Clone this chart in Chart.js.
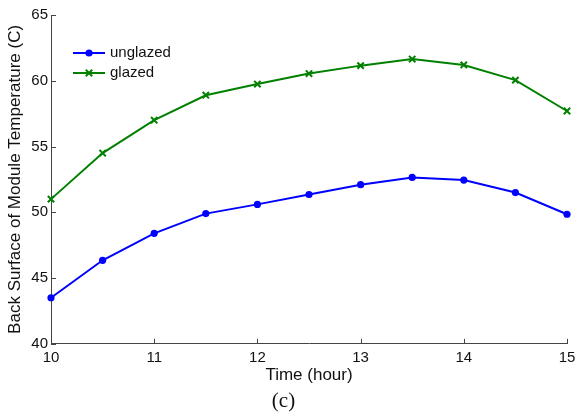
<!DOCTYPE html>
<html>
<head>
<meta charset="utf-8">
<script src="https://cdn.jsdelivr.net/npm/chart.js@4/dist/chart.umd.min.js"></script>
<style>
  html, body { margin: 0; padding: 0; background: #fff; }
  #wrap { width: 577px; height: 420px; }
</style>
</head>
<body>
<div id="wrap"><canvas id="chart-canvas" width="577" height="420"></canvas></div>
<script>
// values
const hours = [10, 10.5, 11, 11.5, 12, 12.5, 13, 13.5, 14, 14.5, 15];
const unglazed = [43.5, 46.35, 48.4, 49.9, 50.6, 51.35, 52.1, 52.65, 52.45, 51.5, 49.85];
const glazed = [51.0, 54.5, 57.0, 58.9, 59.75, 60.55, 61.15, 61.65, 61.2, 60.05, 57.7];
const xTicks = [10, 11, 12, 13, 14, 15];
const yTicks = [40, 45, 50, 55, 60, 65];

const toPoints = (ys) => hours.map((h, i) => ({ x: h, y: ys[i] }));

// inward tick marks, matlab style
const inwardTicks = {
  id: 'inwardTicks',
  afterDraw(chart) {
    const ctx = chart.ctx;
    const x = chart.scales.x, y = chart.scales.y;
    const area = chart.chartArea;
    ctx.save();
    ctx.strokeStyle = '#444';
    ctx.lineWidth = 1;
    ctx.beginPath();
    xTicks.forEach(v => {
      const px = Math.round(x.getPixelForValue(v)) + 0.5;
      ctx.moveTo(px, area.bottom);
      ctx.lineTo(px, area.bottom - 5);
    });
    yTicks.forEach(v => {
      const py = Math.round(y.getPixelForValue(v)) + 0.5;
      ctx.moveTo(area.left, py);
      ctx.lineTo(area.left + 5, py);
    });
    ctx.stroke();
    ctx.restore();
  }
};

// legend drawn inside the plot, top-left
const insideLegend = {
  id: 'insideLegend',
  afterDraw(chart) {
    const ctx = chart.ctx;
    ctx.save();
    ctx.font = '15px "Liberation Sans", Arial, sans-serif';
    ctx.textBaseline = 'middle';
    chart.data.datasets.forEach((ds, i) => {
      const yy = 53 + i * 20;
      ctx.strokeStyle = ds.borderColor;
      ctx.fillStyle = ds.borderColor;
      ctx.lineWidth = 2;
      ctx.beginPath();
      ctx.moveTo(73, yy);
      ctx.lineTo(105, yy);
      ctx.stroke();
      if (ds.pointStyle === 'circle') {
        ctx.beginPath();
        ctx.arc(89, yy, ds.pointRadius, 0, Math.PI * 2);
        ctx.fill();
      } else {
        Chart.helpers.drawPoint(ctx, {
          pointStyle: ds.pointStyle,
          radius: ds.pointRadius,
          borderWidth: ds.pointBorderWidth
        }, 89, yy);
      }
      ctx.fillStyle = '#111';
      ctx.fillText(ds.label, 110, yy);
    });
    ctx.restore();
  }
};

new Chart(document.getElementById('chart-canvas'), {
  type: 'line',
  data: {
    datasets: [
      {
        label: 'unglazed',
        data: toPoints(unglazed),
        borderColor: '#0000ff',
        backgroundColor: '#0000ff',
        borderWidth: 2,
        pointStyle: 'circle',
        pointRadius: 3.6,
        pointBorderWidth: 0,
        tension: 0,
        clip: false
      },
      {
        label: 'glazed',
        data: toPoints(glazed),
        borderColor: '#008000',
        backgroundColor: '#008000',
        borderWidth: 2,
        pointStyle: 'crossRot',
        pointRadius: 4.5,
        pointBorderWidth: 2,
        tension: 0,
        clip: false
      }
    ]
  },
  options: {
    responsive: false,
    animation: false,
    layout: { padding: { top: 15, right: 10, bottom: 6, left: 0 } },
    scales: {
      x: {
        type: 'linear',
        min: 10,
        max: 15,
        afterFit: (s) => { s.height = 45; s.paddingRight = 0; },
        afterBuildTicks: (s) => { s.ticks = xTicks.map(v => ({ value: v })); },
        grid: { drawOnChartArea: false, drawTicks: false },
        border: { display: true, color: '#444', width: 1 },
        ticks: { padding: 5, color: '#111', font: { family: '"Liberation Sans", Arial, sans-serif', size: 15 } },
        title: {
          display: true,
          text: 'Time (hour)',
          color: '#111',
          padding: { top: 0, bottom: 3 },
          font: { family: '"Liberation Sans", Arial, sans-serif', size: 17 }
        }
      },
      y: {
        min: 40,
        max: 65,
        afterFit: (s) => { s.width = 51; },
        afterBuildTicks: (s) => { s.ticks = yTicks.map(v => ({ value: v })); },
        grid: { drawOnChartArea: false, drawTicks: false },
        border: { display: true, color: '#444', width: 1 },
        ticks: { padding: 3, color: '#111', font: { family: '"Liberation Sans", Arial, sans-serif', size: 15 } },
        title: {
          display: true,
          text: 'Back Surface of Module Temperature (C)',
          color: '#111',
          padding: { top: 5, bottom: 5 },
          font: { family: '"Liberation Sans", Arial, sans-serif', size: 17 }
        }
      }
    },
    plugins: {
      legend: { display: false },
      tooltip: { enabled: false },
      title: {
        display: true,
        position: 'bottom',
        text: '(c)',
        color: '#111',
        padding: { top: 0, bottom: 0 },
        font: { family: '"Liberation Serif", "Times New Roman", serif', size: 21, weight: 'normal' }
      }
    }
  },
  plugins: [inwardTicks, insideLegend]
});
</script>
</body>
</html>
